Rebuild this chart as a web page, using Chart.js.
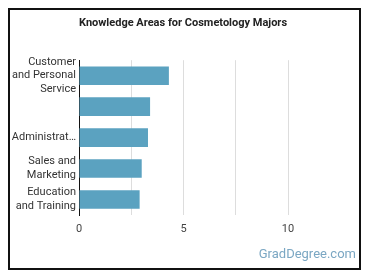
<!DOCTYPE html>
<html>
<head>
<meta charset="utf-8">
<script src="https://cdn.jsdelivr.net/npm/chart.js@4"></script>
<style>
  body{margin:0;background:#fff;}
  #wrap{position:relative;width:370px;height:278px;}
  #frame{position:absolute;left:8px;top:8px;width:349px;height:258px;border:2px solid #111;}
  #myChart{position:absolute;left:0;top:0;}
  #mark{position:absolute;right:14px;top:246px;font-family:Roboto,sans-serif;font-size:13px;color:#7ba7c3;}
</style>
</head>
<body>
<div id="wrap">
  <div id="frame"></div>
  <canvas id="myChart" width="370" height="278"></canvas>
  <div id="mark">GradDegree.com</div>
</div>
<script>
const areas = [
    ['Customer','and Personal','Service'],
    '',
    'Administrat\u2026',
    ['Sales and','Marketing'],
    ['Education','and Training']
];
const scores = [4.3, 3.4, 3.3, 3.0, 2.9];
const xTicks = [0, 5, 10];

const ctx = document.getElementById('myChart').getContext('2d');

const knowledgeChart = new Chart(ctx, {
    type:'bar',
    data:{
        labels:areas,
        datasets:[{
            label:'Knowledge',
            data:scores,
            backgroundColor:'#5ba2c0',
            categoryPercentage:1,
            barPercentage:0.6
        }]
    },
    options:{
        indexAxis:'y',
        responsive:false,
        animation:false,
        layout:{
            padding:{left:10, right:14, top:10, bottom:33}
        },
        scales:{
            x:{
                min:0,
                max:13.25,
                border:{display:false},
                grid:{
                    drawTicks:false,
                    color:function(c){ return c.tick && c.tick.value > 10 ? 'rgba(0,0,0,0)' : '#dddddd'; }
                },
                afterFit:function(axis){ axis.height = 30; },
                ticks:{
                    stepSize:2.5,
                    padding:8,
                    color:'#444',
                    font:{family:'Roboto', size:11},
                    callback:function(v){ return xTicks.includes(v) ? v : ''; }
                }
            },
            y:{
                border:{display:true, color:'#111', width:1},
                grid:{display:false, drawTicks:false},
                afterFit:function(axis){ axis.width = 69; },
                ticks:{
                    autoSkip:false,
                    padding:3,
                    color:'#333',
                    font:{family:'Roboto', size:11, lineHeight:1.25}
                }
            }
        },
        plugins:{
            title:{
                display:true,
                text:'Knowledge Areas for Cosmetology Majors',
                color:'#222',
                font:{family:'Roboto', size:11, weight:'bold'},
                padding:{top:7, bottom:30}
            },
            legend:{display:false},
            tooltip:{enabled:false}
        }
    }
});
</script>
</body>
</html>
